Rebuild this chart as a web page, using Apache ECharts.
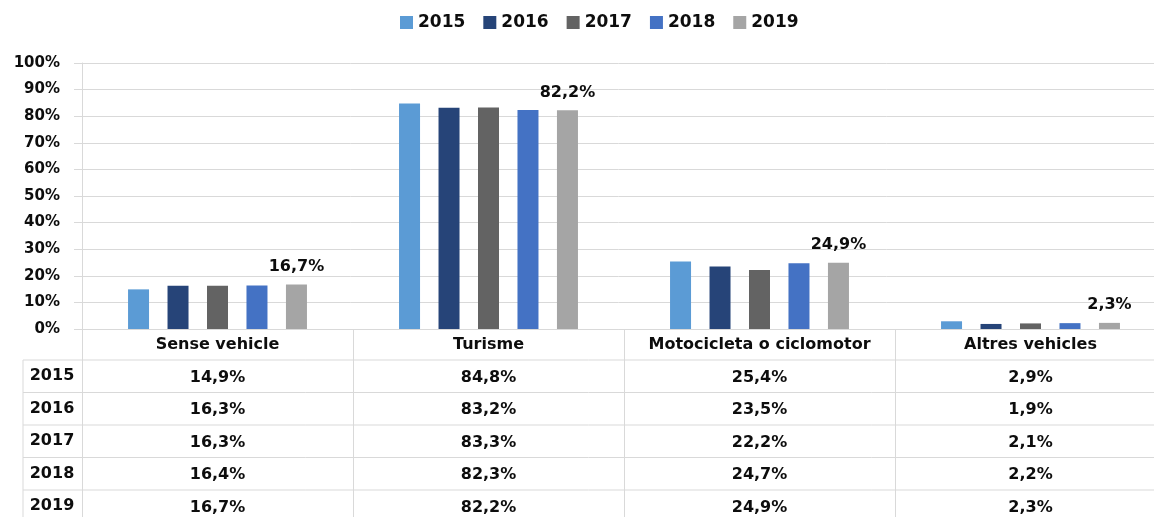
<!DOCTYPE html>
<html>
<head>
<meta charset="utf-8">
<script src="https://cdn.jsdelivr.net/npm/echarts@6/dist/echarts.min.js"></script>
<style>
html,body{margin:0;padding:0;background:#fff;}
#c{width:1154px;height:517px;}
</style>
</head>
<body>
<div id="c"></div>
<script>
const categories = ['Sense vehicle', 'Turisme', 'Motocicleta o ciclomotor', 'Altres vehicles'];
const years = ['2015', '2016', '2017', '2018', '2019'];
const v2015 = [14.9, 84.8, 25.4, 2.9];
const v2016 = [16.3, 83.2, 23.5, 1.9];
const v2017 = [16.3, 83.3, 22.2, 2.1];
const v2018 = [16.4, 82.3, 24.7, 2.2];
const v2019 = [16.7, 82.2, 24.9, 2.3];
const colors = ['#5B9BD5', '#264478', '#636363', '#4472C4', '#A5A5A5'];
const yMin = 0, yMax = 100, yStep = 10;

const seriesValues = [v2015, v2016, v2017, v2018, v2019];
const FONT = 'DejaVu Sans';
const LINE = '#d9d9d9';
const fmt = v => v.toFixed(1).replace('.', ',') + '%';

const gridLeft = 82, gridTop = 63, gridH = 266, gridW = 1084;
const rowH = 32.5;
const headerBottom = 360;

const chart = echarts.init(document.getElementById('c'), null, {renderer: 'canvas'});

const graphics = [];
for (let i = 0; i < years.length; i++) {
  const y = headerBottom + i * rowH;
  graphics.push({type: 'line', shape: {x1: 23, y1: y, x2: 1154, y2: y}, style: {stroke: LINE, lineWidth: 1}, silent: true});
}
graphics.push({type: 'line', shape: {x1: 23, y1: headerBottom, x2: 23, y2: 517}, style: {stroke: LINE, lineWidth: 1}, silent: true});
years.forEach((yr, i) => {
  graphics.push({
    type: 'text', x: 52, y: headerBottom + i * rowH + rowH / 2,
    style: {text: yr, font: 'bold 16px "' + FONT + '"', fill: '#0d0d0d', textAlign: 'center', textVerticalAlign: 'middle'},
    silent: true
  });
});

const series = years.map((yr, i) => ({
  name: yr,
  type: 'bar',
  data: seriesValues[i],
  barWidth: 21,
  barGap: '88%',
  itemStyle: {color: colors[i]},
  label: i === years.length - 1 ? {
    show: true, position: 'top', distance: 10,
    formatter: p => fmt(p.value),
    fontFamily: FONT, fontWeight: 'bold', fontSize: 16, color: '#0d0d0d'
  } : {show: false}
}));

chart.setOption({
  animation: false,
  backgroundColor: '#fff',
  legend: {
    data: years,
    top: 9, left: 395,
    icon: 'rect', itemWidth: 13, itemHeight: 13, itemGap: 18,
    textStyle: {fontFamily: FONT, fontWeight: 'bold', fontSize: 17, color: '#0d0d0d'}
  },
  grid: {left: gridLeft, top: gridTop, width: gridW, height: gridH, containLabel: false, outerBoundsMode: 'none'},
  xAxis: {
    type: 'category',
    data: categories,
    axisLine: {show: true, lineStyle: {color: LINE, width: 1}},
    axisTick: {show: true, length: 190, lineStyle: {color: LINE, width: 1}},
    axisLabel: {
      interval: 0, margin: 0,
      formatter: (value, idx) => [value].concat(seriesValues.map(s => fmt(s[idx]))).join('\n'),
      fontFamily: FONT, fontWeight: 'bold', fontSize: 16, color: '#0d0d0d',
      lineHeight: rowH, verticalAlign: 'top'
    },
    splitLine: {show: false}
  },
  yAxis: {
    type: 'value', min: yMin, max: yMax, interval: yStep,
    axisLine: {show: true, lineStyle: {color: LINE, width: 1}},
    axisTick: {show: true, length: 8, lineStyle: {color: LINE, width: 1}},
    axisLabel: {
      margin: 22, formatter: v => v + '%',
      fontFamily: FONT, fontWeight: 'bold', fontSize: 15, color: '#0d0d0d'
    },
    splitLine: {show: true, lineStyle: {color: LINE, width: 1}}
  },
  series: series,
  graphic: graphics
});
</script>
</body>
</html>
